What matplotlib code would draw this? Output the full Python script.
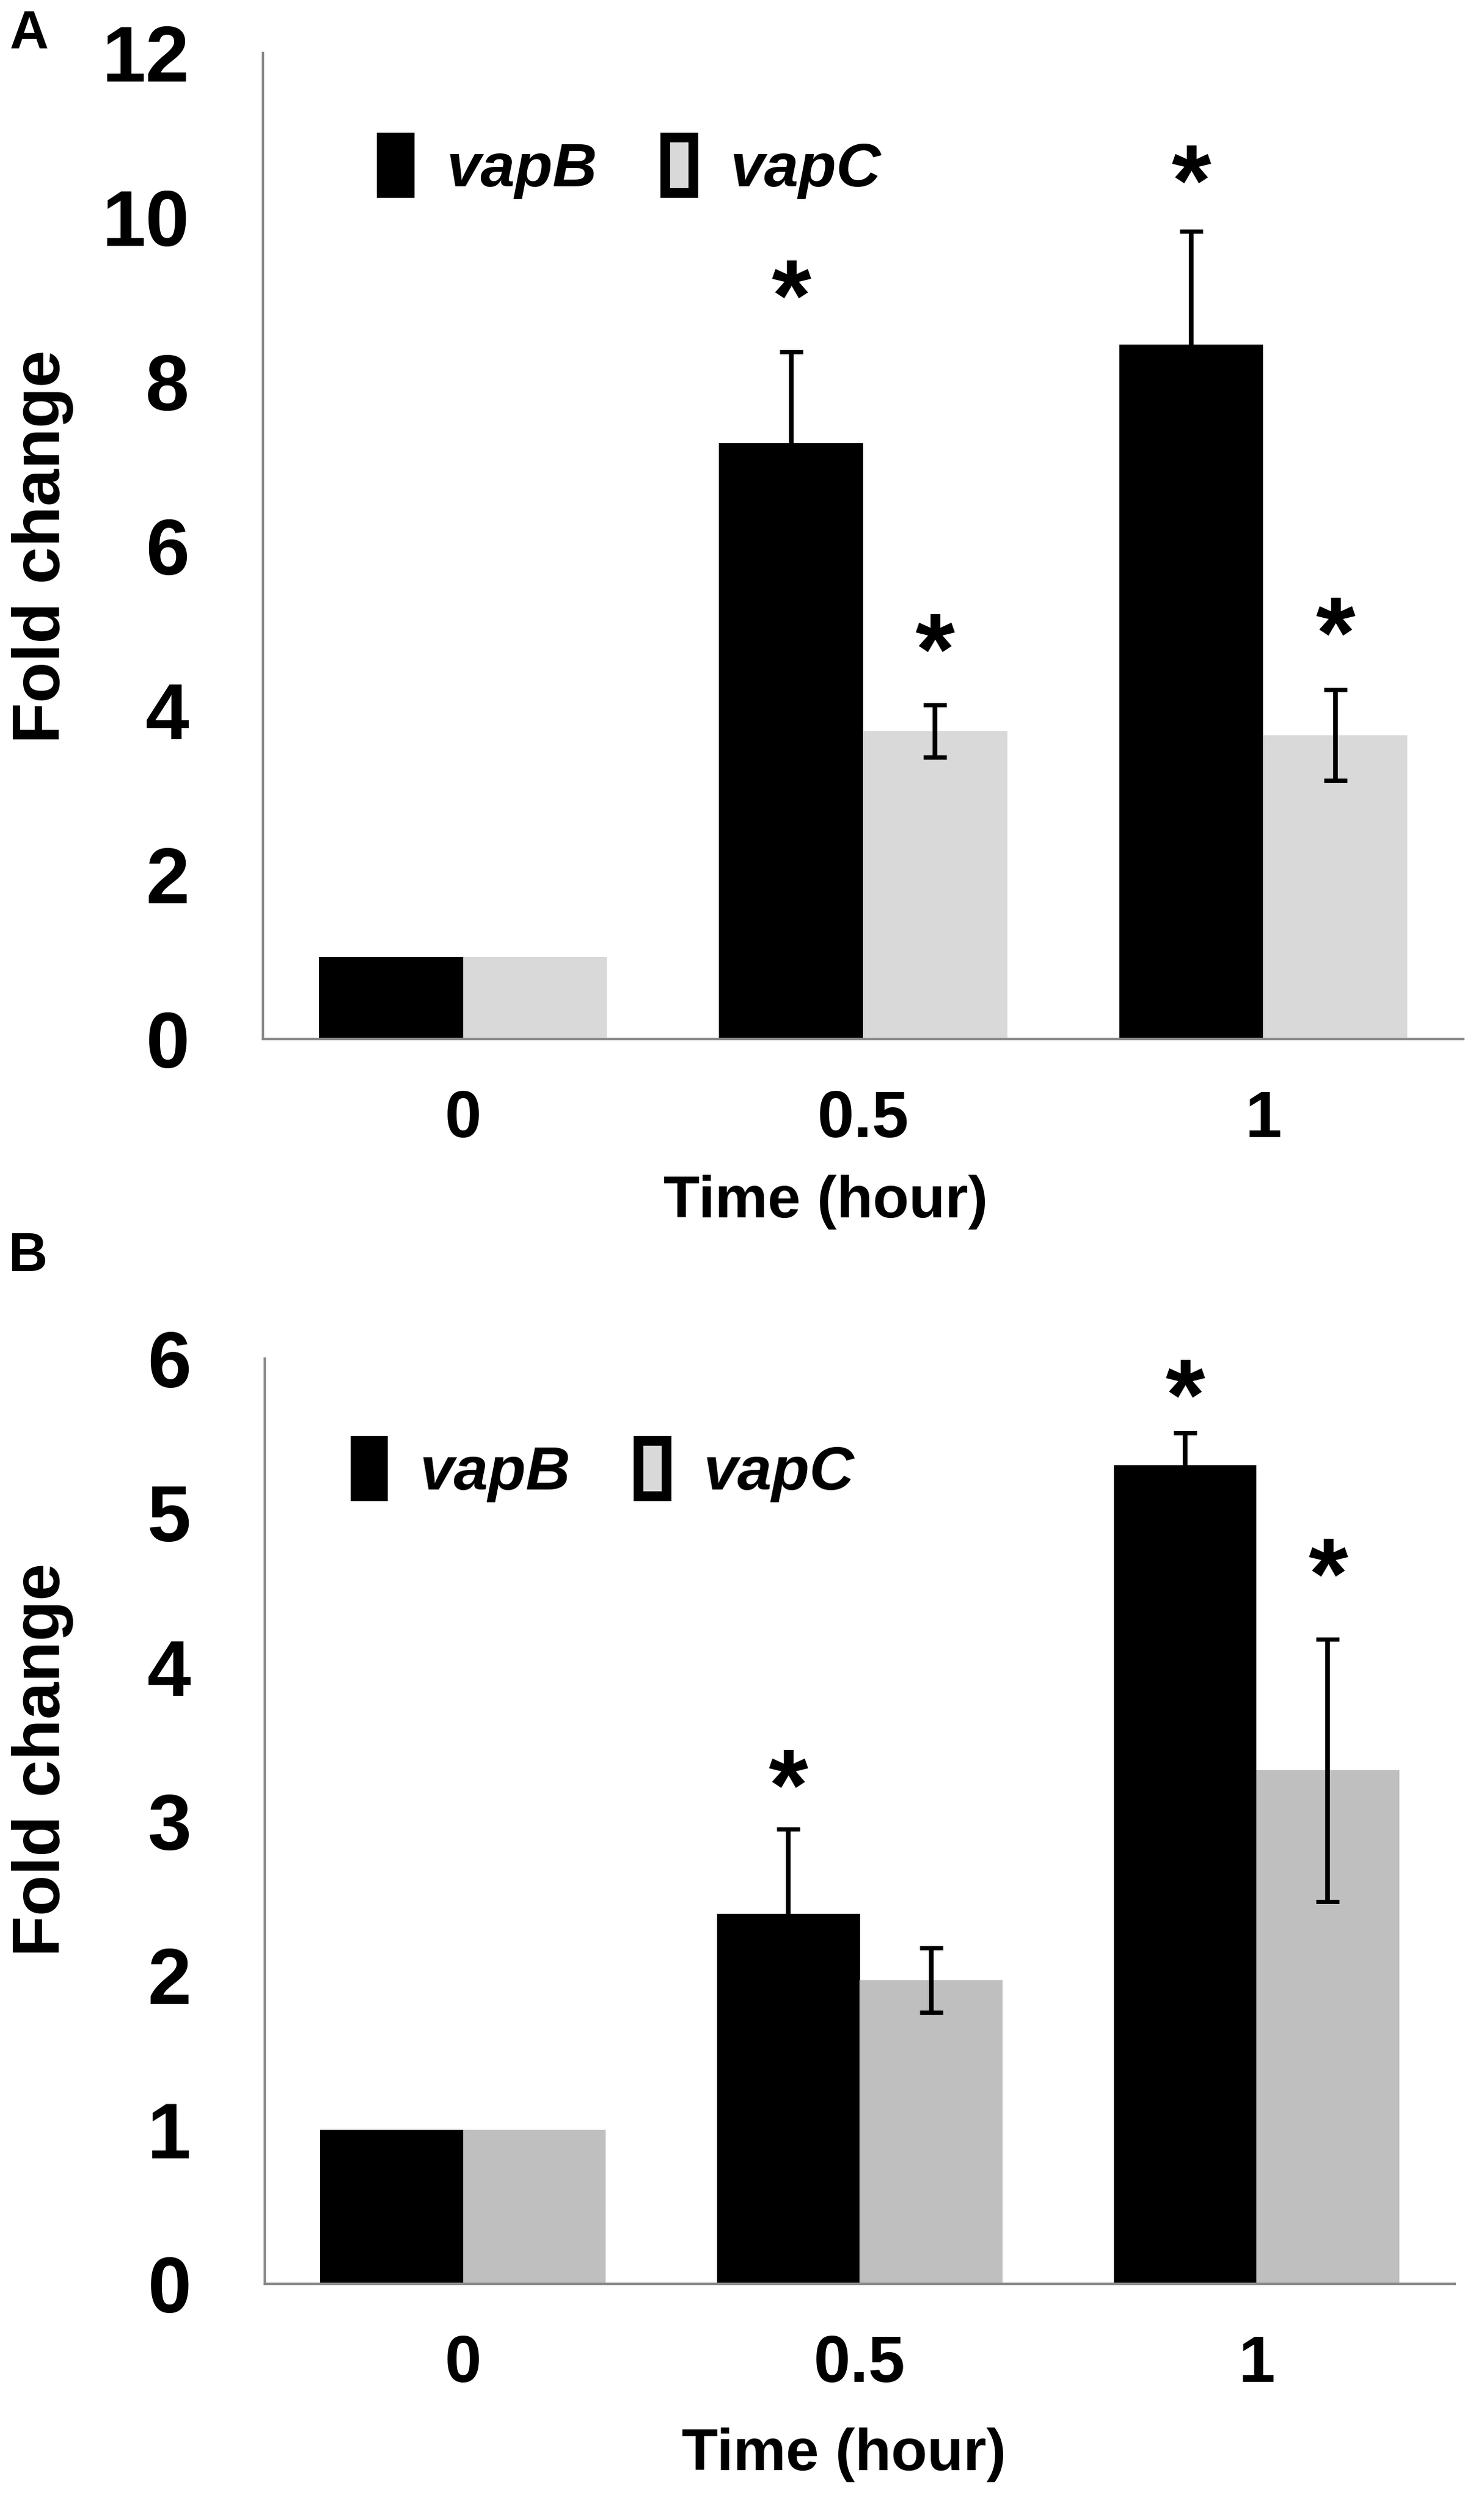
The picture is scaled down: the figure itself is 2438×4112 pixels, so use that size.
import matplotlib
matplotlib.use("Agg")
import numpy as np
import matplotlib.pyplot as plt
from matplotlib.patches import Patch
from matplotlib import transforms

plt.rcParams['font.family'] = ['Liberation Sans', 'DejaVu Sans']
plt.rcParams['font.weight'] = 'bold'

times = ['0', '0.5', '1']

# panel A
a_vapB = [1.0, 7.25, 8.45]
a_vapB_err = [0.0, 1.11, 1.38]
a_vapC = [1.0, 3.75, 3.70]
a_vapC_err = [0.0, 0.32, 0.55]
a_star_vapB = [None, 9.3, 10.7]
a_star_vapC = [None, 5.0, 5.2]

# panel B
b_vapB = [1.0, 2.40, 5.31]
b_vapB_err = [0.0, 0.55, 0.21]
b_vapC = [1.0, 1.97, 3.33]
b_vapC_err = [0.0, 0.21, 0.85]
b_star_vapB = [None, 3.37, 5.9]
b_star_vapC = [None, None, 4.74]

W, H = 2438, 4112
fig = plt.figure(figsize=(W / 100, H / 100), dpi=100)

bar_w = 0.36
star_fs = 120


def panel(rect, vapB, vapB_err, vapC, vapC_err, star_b, star_c, ymax, grey,
          leg_xy, xlab_xy, ylab_xy, letter_xy, letter):
    ax = fig.add_axes(rect)
    x = np.arange(len(times))
    ax.bar(x - bar_w / 2, vapB, bar_w, color='black', zorder=2)
    ax.bar(x + bar_w / 2, vapC, bar_w, color=grey, zorder=2)

    for xs, vals, errs in [(x - bar_w / 2, vapB, vapB_err), (x + bar_w / 2, vapC, vapC_err)]:
        m = np.array(errs) > 0
        ax.errorbar(xs[m], np.array(vals)[m], yerr=np.array(errs)[m], fmt='none',
                    ecolor='black', elinewidth=5.5, capsize=14, capthick=5, zorder=3)

    star_tr = transforms.offset_copy(ax.transData, fig=fig, y=-0.55 * star_fs, units='points')
    for xs, stars in [(x - bar_w / 2, star_b), (x + bar_w / 2, star_c)]:
        for xi, s in zip(xs, stars):
            if s is not None:
                ax.text(xi, s, '*', fontsize=star_fs, ha='center', va='baseline',
                        transform=star_tr, fontweight='bold')

    ax.set_xlim(-0.5, 2.5)
    ax.set_ylim(0, ymax)
    ax.set_xticks(x)
    ax.set_xticklabels(times)
    ax.set_yticks(np.arange(0, ymax + 0.1, 2 if ymax > 6 else 1))
    ax.tick_params(axis='x', length=0, pad=60, labelsize=78)
    ax.tick_params(axis='y', length=0, pad=87, labelsize=93)
    for lab in ax.get_xticklabels() + ax.get_yticklabels():
        lab.set_fontweight('bold')
    for s in ['top', 'right']:
        ax.spines[s].set_visible(False)
    for s in ['left', 'bottom']:
        ax.spines[s].set_color('#8c8c8c')
        ax.spines[s].set_linewidth(2.8)

    handles = [Patch(facecolor='black', edgecolor='black', linewidth=11.5, joinstyle='round', label='vapB'),
               Patch(facecolor='#d9d9d9', edgecolor='black', linewidth=11.5, joinstyle='round', label='vapC')]
    ax.legend(handles=handles, loc='center left', bbox_to_anchor=leg_xy, ncol=2, frameon=False,
              prop={'size': 73, 'weight': 'bold', 'style': 'italic'},
              handlelength=0.45, handleheight=1.0, handletextpad=0.6, columnspacing=1.1,
              borderpad=0, borderaxespad=0)

    fig.text(xlab_xy[0], xlab_xy[1], 'Time (hour)', fontsize=70, fontweight='bold',
             ha='center', va='center')
    fig.text(ylab_xy[0], ylab_xy[1], 'Fold change', fontsize=79, fontweight='bold',
             ha='center', va='center', rotation=90)
    fig.text(letter_xy[0], letter_xy[1], letter, fontsize=64, fontweight='bold',
             ha='left', va='baseline')
    return ax


panel([432 / W, 1 - 1707 / H, (2404 - 432) / W, (1707 - 87) / H],
      a_vapB, a_vapB_err, a_vapC, a_vapC_err, a_star_vapB, a_star_vapC, 12, '#d9d9d9',
      (0.099, 0.883), (1356 / W, 1 - 1975 / H), (70 / W, 1 - 898 / H), (16 / W, 1 - 80 / H), 'A')

panel([435 / W, 1 - 3752 / H, (2390 - 435) / W, (3752 - 2232) / H],
      b_vapB, b_vapB_err, b_vapC, b_vapC_err, b_star_vapB, b_star_vapC, 6, '#bfbfbf',
      (0.076, 0.878), (1386 / W, 1 - 4033 / H), (70 / W, 1 - 2891 / H), (14 / W, 1 - 2088 / H), 'B')

fig.savefig('out.png', dpi=100)
